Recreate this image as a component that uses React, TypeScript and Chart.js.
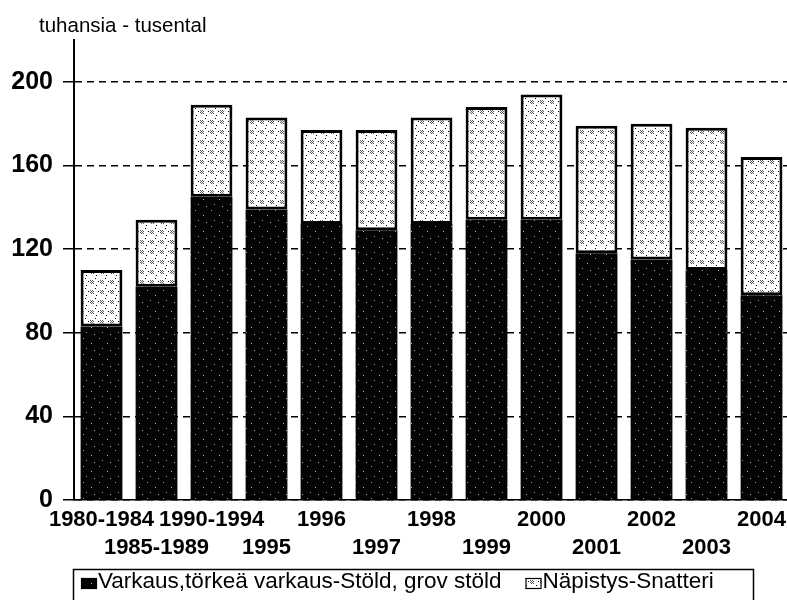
import React, { useEffect, useRef } from 'react';
import { Chart, registerables } from 'chart.js';

Chart.register(...registerables);

// ---- data ----
const categories = [
  '1980-1984', '1985-1989', '1990-1994', '1995', '1996', '1997', '1998',
  '1999', '2000', '2001', '2002', '2003', '2004',
];
const theftValues = [83, 102, 145, 139, 132, 129, 132, 134, 134, 118, 115, 110, 98];
const shopliftingValues = [27, 32, 44, 44, 45, 48, 51, 54, 60, 61, 65, 68, 66];
const seriesNames = ['Varkaus,törkeä varkaus-Stöld, grov stöld', 'Näpistys-Snatteri'];
const yTicks = [0, 40, 80, 120, 160, 200];
const yAxisMax = 220;
const unitLabel = 'tuhansia - tusental';

const FONT = "'Liberation Sans', Arial, Helvetica, sans-serif";

function makePattern(ctx: CanvasRenderingContext2D, bg: string, size: number, dots: Array<[number, number, string]>) {
  const c = document.createElement('canvas');
  c.width = size;
  c.height = size;
  const g = c.getContext('2d')!;
  g.fillStyle = bg;
  g.fillRect(0, 0, size, size);
  dots.forEach(([x, y, col]) => {
    g.fillStyle = col;
    g.fillRect(x, y, 1, 1);
  });
  return ctx.createPattern(c, 'repeat')!;
}

export default function App() {
  const ref = useRef<HTMLCanvasElement | null>(null);

  useEffect(() => {
    document.body.style.margin = '0';
    document.body.style.overflow = 'hidden';
    const canvas = ref.current!;
    const ctx = canvas.getContext('2d')!;

    const darkDots: Array<[number, number, string]> = [
      [3, 2, '#9a9a9a'], [11, 7, '#b0b0b0'], [6, 12, '#9a9a9a'], [14, 14, '#a8a8a8'],
    ];
    const darkPat = makePattern(ctx, '#030303', 16, darkDots);

    const lightDots: Array<[number, number, string]> = [];
    for (let y = 0; y < 4; y++) {
      for (let x = 0; x < 4; x++) {
        if ((x + y) % 2 === 0) lightDots.push([x, y, '#5a5a5a']);
      }
    }
    lightDots.push([6, 5, '#000000'], [5, 8, '#000000'], [8, 1, '#000000']);
    const lightPat = makePattern(ctx, '#ffffff', 10, lightDots);

    const decor = {
      id: 'decor',
      afterDraw(chart: any) {
        const c = chart.ctx as CanvasRenderingContext2D;
        c.save();
        c.fillStyle = '#000';
        c.textAlign = 'left';
        c.textBaseline = 'alphabetic';
        c.font = `20.5px ${FONT}`;
        c.fillText(unitLabel, 39, 32);

        // legend frame
        c.lineWidth = 1.5;
        c.strokeStyle = '#000';
        c.strokeRect(73.5, 569.5, 680, 40);
        c.font = `22.5px ${FONT}`;
        let x = 81;
        chart.data.datasets.forEach((ds: any) => {
          c.fillStyle = ds.backgroundColor;
          c.fillRect(x, 578, 16, 11);
          c.lineWidth = 1.2;
          c.strokeStyle = '#000';
          c.strokeRect(x + 0.5, 578.5, 15, 10);
          c.fillStyle = '#000';
          c.fillText(ds.label, x + 17, 588);
          x += 17 + c.measureText(ds.label).width + 24;
        });
        c.restore();
      },
    };

    const chart = new Chart(canvas, {
      type: 'bar',
      data: {
        labels: categories,
        datasets: [
          {
            label: seriesNames[0],
            data: theftValues,
            backgroundColor: darkPat as any,
            borderColor: '#000',
            borderWidth: 0,
            barPercentage: 0.76,
            categoryPercentage: 1,
            stack: 's',
          },
          {
            label: seriesNames[1],
            data: shopliftingValues,
            backgroundColor: lightPat as any,
            borderColor: '#000',
            borderWidth: 3,
            borderSkipped: false,
            barPercentage: 0.76,
            categoryPercentage: 1,
            stack: 's',
          },
        ],
      },
      options: {
        responsive: false,
        animation: false,
        devicePixelRatio: 1,
        layout: { padding: { top: 40, left: 0, right: 0, bottom: 32 } },
        plugins: {
          legend: { display: false },
          tooltip: { enabled: false },
          title: { display: false },
        },
        scales: {
          x: {
            stacked: true,
            grid: { display: false, drawTicks: false, tickLength: 0 },
            border: { display: true, color: '#000', width: 1.5 },
            ticks: {
              autoSkip: false,
              maxRotation: 0,
              minRotation: 0,
              padding: 6,
              color: '#000',
              font: { family: FONT, size: 22, weight: 'bold', lineHeight: 1.27 },
              callback: (_v: any, i: number) => (i % 2 === 0 ? [categories[i], ''] : ['', categories[i]]),
            },
          },
          y: {
            stacked: true,
            min: 0,
            max: yAxisMax,
            afterBuildTicks: (s: any) => {
              s.ticks = yTicks.map((v) => ({ value: v }));
            },
            afterFit: (s: any) => {
              s.width = 74;
            },
            grid: {
              color: '#000',
              lineWidth: 1.5,
              drawTicks: true,
              tickLength: 11,
              tickColor: '#000',
              tickWidth: 1.5,
              tickBorderDash: [],
            },
            border: { display: true, color: '#000', width: 2, dash: [7, 5] },
            ticks: {
              padding: 10,
              color: '#000',
              font: { family: FONT, size: 25, weight: 'bold' },
            },
          },
        },
      } as any,
      plugins: [decor],
    });

    return () => chart.destroy();
  }, []);

  return (
    <div style={{ width: 787, height: 600, overflow: 'hidden', position: 'relative', background: '#fff' }}>
      <canvas ref={ref} width={792} height={600} style={{ display: 'block' }} />
    </div>
  );
}
